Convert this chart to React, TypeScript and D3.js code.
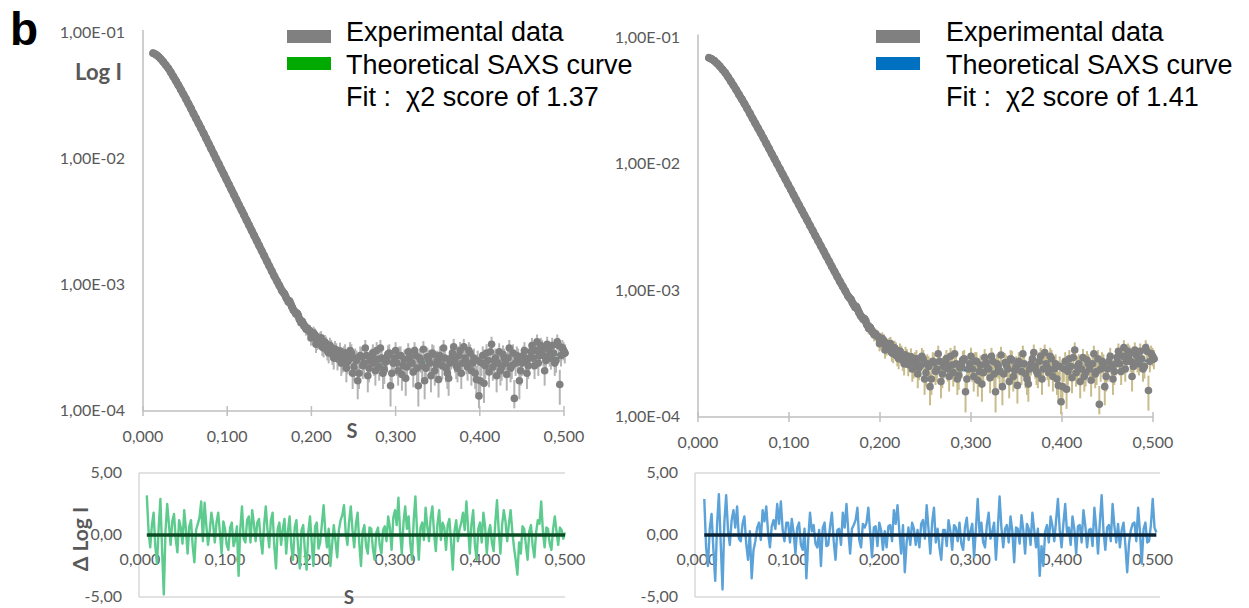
import React, { useEffect, useRef } from "react";
import * as d3 from "d3";

// experimental curve, shared by both fits : s = S_START + i * S_STEP
const S_START = 0.012;
const S_STEP = 0.003;

// log10(I)
const LOG_I = [
  -1.160, -1.170, -1.185, -1.205, -1.228, -1.254, -1.280, -1.312, -1.345, -1.379,
  -1.414, -1.450, -1.486, -1.523, -1.561, -1.600, -1.640, -1.679, -1.718, -1.757,
  -1.797, -1.837, -1.878, -1.919, -1.959, -2.000, -2.040, -2.081, -2.121, -2.162,
  -2.202, -2.243, -2.284, -2.324, -2.365, -2.405, -2.445, -2.486, -2.526, -2.567,
  -2.607, -2.648, -2.688, -2.729, -2.769, -2.810, -2.850, -2.890, -2.930, -2.968,
  -3.005, -3.045, -3.070, -3.112, -3.128, -3.175, -3.210, -3.225, -3.275, -3.290,
  -3.330, -3.345, -3.365, -3.410, -3.395, -3.450, -3.430, -3.490, -3.455, -3.520,
  -3.480, -3.550, -3.510, -3.585, -3.525, -3.600, -3.540, -3.610, -3.520, -3.700,
  -3.580, -3.760, -3.560, -3.640, -3.500, -3.720, -3.600, -3.540, -3.680, -3.590,
  -3.500, -3.700, -3.610, -3.550, -3.800, -3.620, -3.520, -3.680, -3.560, -3.640,
  -3.740, -3.530, -3.610, -3.690, -3.560, -3.800, -3.600, -3.510, -3.660, -3.590,
  -3.720, -3.550, -3.630, -3.750, -3.580, -3.500, -3.660, -3.740, -3.580, -3.490,
  -3.640, -3.560, -3.700, -3.490, -3.610, -3.520, -3.680, -3.580, -3.750, -3.880,
  -3.620, -3.780, -3.540, -3.690, -3.470, -3.600, -3.720, -3.530, -3.650, -3.580,
  -3.710, -3.500, -3.640, -3.900, -3.560, -3.760, -3.620, -3.520, -3.700, -3.580,
  -3.480, -3.640, -3.450, -3.560, -3.500, -3.680, -3.470, -3.560, -3.480, -3.620,
  -3.450, -3.790, -3.500, -3.540
];

// the noisy tail has more points : s = TAIL_START + i * S_STEP
const TAIL_START = 0.1665;
const LOG_I_TAIL = [
  -3.060, -3.095, -3.135, -3.150, -3.200, -3.230, -3.240, -3.300, -3.310, -3.350,
  -3.360, -3.420, -3.380, -3.470, -3.440, -3.420, -3.500, -3.470, -3.540, -3.500,
  -3.580, -3.530, -3.560, -3.620, -3.560, -3.660, -3.590, -3.540, -3.650, -3.600,
  -3.700, -3.570, -3.620, -3.560, -3.660, -3.580, -3.620, -3.520, -3.650, -3.580,
  -3.670, -3.600, -3.540, -3.700, -3.580, -3.620, -3.560, -3.710, -3.590, -3.650,
  -3.570, -3.620, -3.520, -3.660, -3.580, -3.640, -3.760, -3.570, -3.620, -3.540,
  -3.680, -3.600, -3.560, -3.640, -3.580, -3.700, -3.620, -3.540, -3.600, -3.660,
  -3.520, -3.620, -3.580, -3.650, -3.540, -3.620, -3.700, -3.600, -3.760, -3.560,
  -3.640, -3.600, -3.530, -3.650, -3.580, -3.620, -3.680, -3.550, -3.620, -3.580,
  -3.660, -3.540, -3.620, -3.580, -3.680, -3.560, -3.600, -3.640, -3.530, -3.580,
  -3.520, -3.620, -3.480, -3.560, -3.600, -3.510, -3.580, -3.540, -3.600, -3.480,
  -3.560, -3.520
];

// error on I (absolute)
const SIGMA = 5e-5;

// theoretical curves, log10(I)
const FIT_S = [0.012, 0.03, 0.06, 0.09, 0.12, 0.15, 0.17, 0.19, 0.21, 0.23, 0.25, 0.27, 0.30, 0.35, 0.40, 0.45, 0.50];
const FIT_LEFT = [-1.16, -1.28, -1.64, -2.04, -2.445, -2.85, -3.10, -3.31, -3.46, -3.555, -3.595, -3.615, -3.615, -3.61, -3.60, -3.585, -3.545];
const FIT_RIGHT = [-1.16, -1.28, -1.64, -2.04, -2.445, -2.85, -3.10, -3.31, -3.46, -3.55, -3.60, -3.625, -3.63, -3.62, -3.60, -3.58, -3.55];

// residuals : s = RES_START + i * RES_STEP
const RES_START = 0.008;
const RES_STEP = 0.002;
const RES_LEFT = [
  3.2, 0.4, -1.0, 0.8, 1.8, -0.9, -2.3, 0.6, 2.9, -1.2, -4.8, 0.3, 2.5, 0.9, -0.8, 1.1, 1.7, -0.3, -1.4, 1.2,
  0.6, -0.7, 2.0, 0.5, -1.5, 0.7, 1.2, -0.9, -2.2, 0.4, 0.9, 1.4, 2.7, -0.5, 2.6, 0.8, -0.8, 0.3, 1.8, 0.9,
  -0.6, 1.0, 1.8, 0.2, -1.5, 1.1, 0.5, -0.8, -1.2, 0.6, 1.0, -0.9, -0.4, 0.7, -3.3, 0.5, 2.3, -0.3, -0.6, 1.2,
  1.5, -0.6, 2.0, 0.9, -0.5, 1.0, 1.3, -0.4, -1.5, 0.8, 2.3, 0.4, -1.0, 1.2, 1.8, -0.9, -2.7, 0.5, 1.0, -0.8,
  0.5, 1.3, -1.5, 0.3, 1.5, -0.9, -2.0, 0.6, 1.2, -1.0, -2.7, 0.4, 0.8, -1.3, -2.8, 0.2, 1.5, -0.6, -2.5, 0.7,
  1.0, -1.1, -0.6, 0.9, 2.4, 0.3, -1.0, 0.5, -2.5, -0.8, 0.8, -0.5, -1.8, 0.4, 1.2, 1.6, 2.4, 0.2, -0.8, 1.1,
  2.3, 0.4, -1.0, 0.9, 1.8, -0.7, -2.5, 0.3, 0.8, -0.9, -1.5, 0.6, 0.5, -1.1, -2.0, 0.2, 0.6, -0.8, -1.5, 0.4,
  0.7, -0.5, 1.5, 0.6, -1.2, 1.4, 2.0, 0.8, 3.0, 0.3, -1.5, 1.0, 2.3, 0.5, 1.5, -0.7, -2.0, 1.2, 3.1, 0.2,
  -2.0, 0.6, 1.0, -0.4, 2.2, 0.7, -0.5, 1.4, 2.3, 0.1, -1.3, 0.9, 2.0, -0.4, 1.0, 0.6, -1.2, 0.8, 1.3, -0.6,
  -2.8, 0.3, 1.2, -0.5, 0.5, 1.0, 1.8, 0.4, 2.7, 0.6, -1.5, 0.9, 2.0, -0.8, -2.0, 0.5, 1.0, -0.6, 1.8, 0.7,
  -1.5, 0.2, 0.8, -0.6, -1.3, 1.0, 2.8, 0.4, -1.5, 0.8, 2.0, 1.1, -0.5, 0.9, 2.0, 0.3, -1.0, -2.0, -3.2, -0.6,
  -1.5, 0.7, 0.5, -0.8, -2.0, 0.3, 0.8, -0.9, -1.8, 0.2, 1.2, 0.9, 2.7, 0.3, -1.0, 0.6, 0.5, -0.7, -1.2, 0.5,
  1.5, 0.3, -0.8, 0.6, 0.4, -0.3, 0.2
];
const RES_RIGHT = [
  2.9, -1.0, -2.5, 0.5, 1.7, -1.2, -3.7, 0.8, 3.3, -0.6, -4.4, 1.0, 3.2, 0.4, -0.8, 1.2, 2.0, 0.6, 2.3, -0.3,
  -0.5, 0.9, 1.5, -0.7, -2.0, 0.3, -3.5, -1.2, -0.5, 0.6, 1.0, -0.4, 2.0, 1.1, 2.3, 0.2, -1.0, 0.7, 1.2, 0.5,
  2.5, 0.9, 2.7, 0.4, -0.5, 1.0, 1.0, -0.6, 1.3, 0.2, -1.5, 0.6, 1.0, -0.8, -1.2, 0.5, -3.5, -0.4, 1.8, 0.3,
  0.8, -0.7, -1.0, 0.4, -2.5, 0.6, 1.0, -0.9, -0.8, 0.7, 1.8, -0.5, -2.0, 0.4, 0.5, -0.8, 1.8, 0.6, 2.5, 0.3,
  -1.5, 0.5, 0.8, 1.2, 2.2, -0.4, -1.0, 0.9, 0.6, 1.0, 2.2, 0.2, -1.8, 0.6, 0.7, -0.9, 1.0, 0.4, -1.2, 0.3,
  -1.0, 0.7, 0.8, -0.5, 2.0, 0.9, 2.4, 0.3, -1.5, 0.8, -3.0, -0.6, 0.6, -0.8, 1.0, 0.5, -0.8, 0.4, -1.0, 0.9,
  1.2, -0.3, 2.4, 0.5, -1.5, 1.0, 2.2, -0.6, 0.5, -1.0, -2.0, 0.4, 0.4, -0.9, 1.2, 0.3, -1.2, 0.8, 0.6, -0.5,
  1.0, -0.7, -1.2, 0.6, 1.4, -0.4, 0.3, 0.9, -1.8, 0.5, 2.9, 0.2, 1.0, -0.6, -1.0, 0.8, 1.8, -0.3, 0.3, 1.0,
  -2.0, 0.4, 3.1, 0.6, -1.0, 0.5, 0.8, -0.6, 1.5, 0.3, -2.2, 0.6, 0.5, -0.7, 1.6, 0.4, -1.5, 0.9, 0.5, -0.8,
  1.8, 0.4, -1.0, 0.5, -3.3, -0.9, -2.5, 0.3, 0.8, -0.6, 1.5, 0.7, -0.5, 1.2, 2.9, 0.4, -1.0, 0.9, 2.5, 0.2,
  0.6, -0.8, 1.5, 0.5, -1.5, 0.7, 0.8, -0.6, 2.0, 0.8, -1.0, 0.4, 0.5, -0.9, 2.2, 0.6, -1.5, 1.0, 3.2, 0.3,
  -1.2, 0.6, 0.8, -0.5, 2.5, 0.7, -0.6, 0.9, -1.0, 0.4, 1.0, -0.8, -3.0, -0.7, 0.4, 0.9, 1.0, -0.5, 2.2, 0.3,
  -2.3, 0.5, 1.0, -0.6, -0.5, 0.8, 2.9, 0.6, 0.2
];

const Y_TICKS = [1e-1, 1e-2, 1e-3, 1e-4];
const Y_LABELS = ["1,00E-01", "1,00E-02", "1,00E-03", "1,00E-04"];
const X_TICKS = [0, 0.1, 0.2, 0.3, 0.4, 0.5];
const X_LABELS = ["0,000", "0,100", "0,200", "0,300", "0,400", "0,500"];
const RES_TICKS = [5, 0, -5];
const RES_LABELS = ["5,00", "0,00", "-5,00"];

const AXIS = "#bfbfbf";
const GRID = "#d9d9d9";
const LABEL = "#595959";
const MARK = "#808080";
const R = 3.8;
const TICK_FONT = "Lato, 'Open Sans', sans-serif";
const LEGEND_FONT = "'Liberation Sans', Arial, sans-serif";

const topPanels = [
  { x0: 143, x1: 564, yTop: 33, yBot: 411, fit: FIT_LEFT, fitColor: "#00B050", errColor: "#b4b4b4",
    legendX: 287, textX: 346, swatch: "#00AA00", chi: "1.37" },
  { x0: 698, x1: 1153, yTop: 37.5, yBot: 417, fit: FIT_RIGHT, fitColor: "#0070C0", errColor: "#C9BC8C",
    legendX: 876, textX: 946, swatch: "#0070C0", chi: "1.41" }
];

const resPanels = [
  { axisX: 139, x0: 140, x1: 565, sMax: 0.5, gridEnd: 565, data: RES_LEFT, color: "#5CCB8D", zero: "#0B4A22" },
  { axisX: 695, x0: 697, x1: 1160, sMax: 0.508, gridEnd: 1160, data: RES_RIGHT, color: "#5BA2D8", zero: "#0A2236" }
];

function drawTop(svg: any, p: any) {
  const x = d3.scaleLinear().domain([0, 0.5]).range([p.x0, p.x1]);
  const y = d3.scaleLog().domain([1e-4, 1e-1]).range([p.yBot, p.yTop]);
  const g = svg.append("g");

  // axes
  g.append("line")
    .attr("x1", x(0)).attr("x2", x(0))
    .attr("y1", y(1e-1) - 3).attr("y2", y(1e-4))
    .attr("stroke", AXIS).attr("stroke-width", 1.5);
  g.append("line")
    .attr("x1", x(0)).attr("x2", x(0.5))
    .attr("y1", y(1e-4)).attr("y2", y(1e-4))
    .attr("stroke", AXIS).attr("stroke-width", 1.5);
  g.selectAll(".xt").data(X_TICKS).enter().append("line")
    .attr("x1", (d: number) => x(d)).attr("x2", (d: number) => x(d))
    .attr("y1", y(1e-4) - 5).attr("y2", y(1e-4) + 5)
    .attr("stroke", AXIS).attr("stroke-width", 1.5);

  g.selectAll(".xl").data(X_TICKS).enter().append("text")
    .attr("x", (d: number) => x(d)).attr("y", y(1e-4) + 31)
    .attr("text-anchor", "middle")
    .style("font-family", TICK_FONT).style("font-size", "16px").style("fill", LABEL)
    .text((d: number, i: number) => X_LABELS[i]);
  g.selectAll(".yl").data(Y_TICKS).enter().append("text")
    .attr("x", x(0) - 18).attr("y", (d: number) => y(d) + 5)
    .attr("text-anchor", "end")
    .style("font-family", TICK_FONT).style("font-size", "16px").style("fill", LABEL)
    .text((d: number, i: number) => Y_LABELS[i]);

  const pts = LOG_I.map((v, i) => ({ s: S_START + i * S_STEP, I: Math.pow(10, v) }));
  const tail = LOG_I_TAIL.map((v, i) => ({ s: TAIL_START + i * S_STEP, I: Math.pow(10, v) }));
  const all = pts.concat(tail);

  // theoretical curve, under the measured points
  const line = d3.line<number>()
    .x((d, i) => x(FIT_S[i]))
    .y((d) => y(Math.pow(10, d)))
    .curve(d3.curveMonotoneX);
  g.append("path").attr("d", line(p.fit))
    .attr("fill", "none").attr("stroke", p.fitColor).attr("stroke-width", 2.5);

  // error bars
  g.selectAll(".eb").data(all).enter().append("line")
    .attr("x1", (d: any) => x(d.s)).attr("x2", (d: any) => x(d.s))
    .attr("y1", (d: any) => y(d.I + SIGMA))
    .attr("y2", (d: any) => y(Math.max(d.I - SIGMA, 1.05e-4)))
    .attr("stroke", p.errColor).attr("stroke-width", 2);

  // markers overlap into a band where neighbours are close
  const segs = pts.slice(1).map((d, i) => [pts[i], d])
    .filter(([a, b]) => Math.hypot(x(b.s) - x(a.s), y(b.I) - y(a.I)) < 9);
  g.selectAll(".sg").data(segs).enter().append("line")
    .attr("x1", (d: any) => x(d[0].s)).attr("y1", (d: any) => y(d[0].I))
    .attr("x2", (d: any) => x(d[1].s)).attr("y2", (d: any) => y(d[1].I))
    .attr("stroke", MARK).attr("stroke-width", 2 * R).attr("stroke-linecap", "round");

  g.selectAll(".pt").data(all).enter().append("circle")
    .attr("cx", (d: any) => x(d.s)).attr("cy", (d: any) => y(d.I))
    .attr("r", R).attr("fill", MARK);

  // legend
  g.append("rect").attr("x", p.legendX).attr("y", 30).attr("width", 44).attr("height", 13).attr("fill", MARK);
  g.append("rect").attr("x", p.legendX).attr("y", 57).attr("width", 44).attr("height", 13).attr("fill", p.swatch);
  const lines = ["Experimental data", "Theoretical SAXS curve", `Fit :  χ2 score of ${p.chi}`];
  g.selectAll(".lg").data(lines).enter().append("text")
    .attr("x", p.textX).attr("y", (d: string, i: number) => 41 + i * 32.5)
    .style("font-family", LEGEND_FONT).style("font-size", "27px").style("fill", "#000")
    .style("white-space", "pre")
    .text((d: string) => d);
}

function drawResidual(svg: any, p: any) {
  const x = d3.scaleLinear().domain([0, p.sMax]).range([p.x0, p.x1]);
  const y = d3.scaleLinear().domain([-5, 5]).range([597, 473]);
  const g = svg.append("g");

  g.selectAll(".gr").data([5, -5]).enter().append("line")
    .attr("x1", p.axisX).attr("x2", p.gridEnd)
    .attr("y1", (d: number) => y(d)).attr("y2", (d: number) => y(d))
    .attr("stroke", GRID).attr("stroke-width", 1.5);
  g.append("line")
    .attr("x1", p.axisX).attr("x2", p.axisX).attr("y1", y(5)).attr("y2", y(-5))
    .attr("stroke", GRID).attr("stroke-width", 1.5);

  g.selectAll(".yl").data(RES_TICKS).enter().append("text")
    .attr("x", p.axisX - 17).attr("y", (d: number) => y(d) + 5)
    .attr("text-anchor", "end")
    .style("font-family", TICK_FONT).style("font-size", "16px").style("fill", LABEL)
    .text((d: number, i: number) => RES_LABELS[i]);
  g.selectAll(".xl").data(X_TICKS).enter().append("text")
    .attr("x", (d: number) => x(d)).attr("y", y(0) + 30)
    .attr("text-anchor", "middle")
    .style("font-family", TICK_FONT).style("font-size", "16px").style("fill", LABEL)
    .text((d: number, i: number) => X_LABELS[i]);

  const line = d3.line<number>()
    .x((d, i) => x(RES_START + i * RES_STEP))
    .y((d) => y(d));
  g.append("path").attr("d", line(p.data))
    .attr("fill", "none").attr("stroke", p.color).attr("stroke-width", 2.4)
    .attr("stroke-linejoin", "round");

  const last = RES_START + (p.data.length - 1) * RES_STEP;
  g.append("line")
    .attr("x1", x(RES_START)).attr("x2", x(last))
    .attr("y1", y(0)).attr("y2", y(0))
    .attr("stroke", p.zero).attr("stroke-width", 3.5);
}

export default function App() {
  const ref = useRef<SVGSVGElement>(null);

  useEffect(() => {
    const svg = d3.select(ref.current);
    svg.selectAll("*").remove();

    svg.append("text").attr("x", 10).attr("y", 45)
      .style("font-family", LEGEND_FONT).style("font-size", "46px").style("font-weight", "bold")
      .text("b");

    topPanels.forEach((p) => drawTop(svg, p));
    resPanels.forEach((p) => drawResidual(svg, p));

    // axis titles
    svg.append("text").attr("x", 122).attr("y", 80).attr("text-anchor", "end")
      .style("font-family", TICK_FONT).style("font-size", "22px").style("font-weight", "bold").style("fill", LABEL)
      .text("Log I");
    svg.append("text").attr("x", 352).attr("y", 438).attr("text-anchor", "middle")
      .style("font-family", TICK_FONT).style("font-size", "20px").style("font-weight", "bold").style("fill", LABEL)
      .text("S");
    svg.append("text").attr("transform", "translate(88,539) rotate(-90)").attr("text-anchor", "middle")
      .style("font-family", TICK_FONT).style("font-size", "21px").style("font-weight", "bold").style("fill", LABEL)
      .text("Δ Log I");
    svg.append("text").attr("x", 349).attr("y", 604).attr("text-anchor", "middle")
      .style("font-family", TICK_FONT).style("font-size", "19px").style("font-weight", "bold").style("fill", LABEL)
      .text("S");
  }, []);

  return (
    <svg ref={ref} width={1249} height={608}
      style={{ position: "absolute", left: 0, top: 0, background: "#fff" }} />
  );
}
